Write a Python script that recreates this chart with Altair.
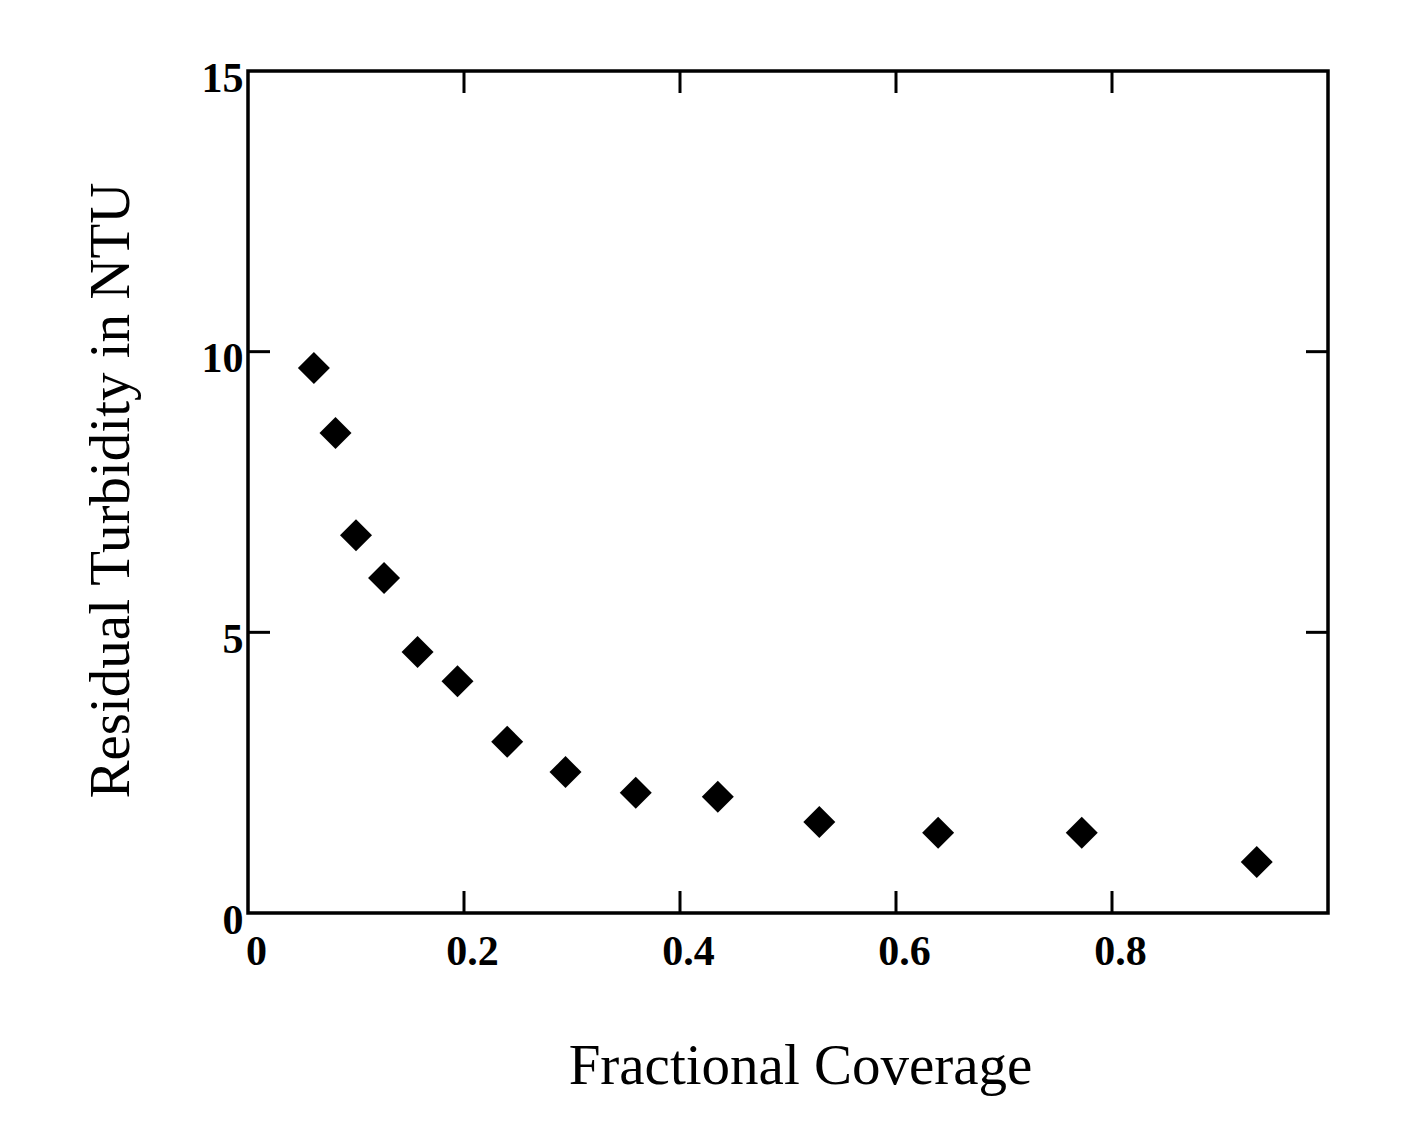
import altair as alt
import pandas as pd

coverage = [0.061, 0.081, 0.100, 0.126, 0.157, 0.194, 0.240, 0.294, 0.359, 0.435, 0.529, 0.639, 0.772, 0.934]
turbidity = [9.71, 8.55, 6.73, 5.97, 4.65, 4.13, 3.05, 2.51, 2.14, 2.07, 1.62, 1.43, 1.43, 0.91]
x_ticks = [0.0, 0.2, 0.4, 0.6, 0.8]
y_ticks = [0, 5, 10, 15]
x_inner_ticks = [0.2, 0.4, 0.6, 0.8]
y_inner_ticks = [5, 10]

W, H = 1080, 842
FONT = "Liberation Serif"

df = pd.DataFrame({"x": coverage, "y": turbidity})
xt = pd.DataFrame({"x": x_inner_ticks})
yt = pd.DataFrame({"y": y_inner_ticks})

xscale = alt.Scale(domain=[0, 1.0], nice=False, zero=False)
yscale = alt.Scale(domain=[0, 15], nice=False, zero=False)

xaxis = alt.Axis(
    values=x_ticks, format="~g", ticks=False, tickSize=0, domain=False, grid=False,
    labelFont=FONT, labelFontWeight="bold", labelFontSize=42, labelColor="black",
    labelPadding=18, labelOffset=8, labelFlush=False, labelOverlap=False,
    title="Fractional Coverage", titleFont=FONT, titleFontWeight="normal", titleFontSize=57,
    titleColor="black", titleX=552, titleY=170, titleAlign="center", titleBaseline="alphabetic",
    titleAngle=0,
)
yaxis = alt.Axis(
    values=y_ticks, format="~g", ticks=False, tickSize=0, domain=False, grid=False,
    labelFont=FONT, labelFontWeight="bold", labelFontSize=42, labelColor="black",
    labelPadding=5, labelOffset=7, labelFlush=False, labelOverlap=False,
    labelBaseline="middle",
    title="Residual Turbidity in NTU", titleFont=FONT, titleFontWeight="normal", titleFontSize=57,
    titleColor="black", titleX=-120, titleY=419, titleAlign="center", titleBaseline="alphabetic",
    titleAngle=270,
)

points = alt.Chart(df).mark_point(shape="diamond", filled=True, size=1024, color="black", opacity=1).encode(
    x=alt.X("x:Q", scale=xscale, axis=xaxis),
    y=alt.Y("y:Q", scale=yscale, axis=yaxis),
)

tick_style = dict(color="black", strokeWidth=3)
bottom_ticks = alt.Chart(xt).mark_rule(**tick_style).encode(
    x=alt.X("x:Q", scale=xscale), y=alt.value(H), y2=alt.value(H - 22))
top_ticks = alt.Chart(xt).mark_rule(**tick_style).encode(
    x=alt.X("x:Q", scale=xscale), y=alt.value(0), y2=alt.value(22))
left_ticks = alt.Chart(yt).mark_rule(**tick_style).encode(
    y=alt.Y("y:Q", scale=yscale), x=alt.value(0), x2=alt.value(22))
right_ticks = alt.Chart(yt).mark_rule(**tick_style).encode(
    y=alt.Y("y:Q", scale=yscale), x=alt.value(W), x2=alt.value(W - 22))

chart = alt.layer(points, bottom_ticks, top_ticks, left_ticks, right_ticks).properties(
    width=W, height=H,
    autosize=alt.AutoSizeParams(type="none"),
    padding={"left": 240, "top": 63, "right": 60, "bottom": 210},
    background="white",
).configure_view(stroke="black", strokeWidth=3.5)

chart.save("out.html", embed_options={"renderer": "svg", "actions": False})
